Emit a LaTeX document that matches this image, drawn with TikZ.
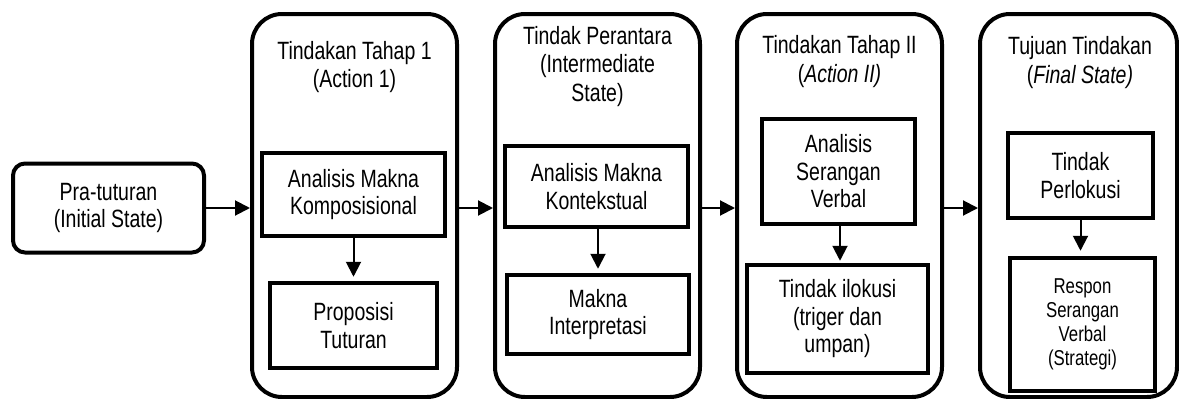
\documentclass[tikz,border=0pt]{standalone}
\usepackage{fontspec}
\setmainfont{Liberation Sans}[FakeStretch=0.78]
\usetikzlibrary{arrows.meta, positioning}

\begin{document}
\begin{tikzpicture}[
        x=1pt, y=-1pt,
        tahap/.style={
            rectangle,
            rounded corners=30pt,
            draw=black,
            line width=4pt,
            minimum width=205pt,
            minimum height=383pt
        },
        kotak/.style={
            rectangle,
            draw=black,
            line width=4.5pt,
            align=center,
            inner sep=2pt,
            font=\fontsize{25}{27.5}\selectfont
        },
        judul/.style={
            align=center,
            inner sep=0pt,
            font=\fontsize{25}{28.5}\selectfont
        },
        panah/.style={
            -{Triangle[length=15pt,width=15pt]},
            line width=2pt
        }
    ]
        \useasboundingbox (0,0) rectangle (1179,399);

        \node[kotak, rounded corners=12pt, line width=4pt, minimum width=191pt, minimum height=89pt] (pra) at (108.5,208) {
            Pra-tuturan\\
            (Initial State)
        };

        \node[tahap] (s1) at (354.5,205.5) {};
        \node[tahap] (s2) at (597.5,205.5) {};
        \node[tahap] (s3) at (839.5,205.5) {};
        \node[tahap, minimum width=197pt] (s4) at (1078.5,205.5) {};

        \node[judul] (j1) at (354.5,67) {Tindakan Tahap 1\\(Action 1)};
        \node[judul] (j2) at (597.5,66.5) {Tindak Perantara\\(Intermediate\\State)};
        \node[judul] (j3) at (839.5,61.5) {Tindakan Tahap II\\(\textit{Action II)}};
        \node[judul] (j4) at (1080,62.5) {Tujuan Tindakan\\(\textit{Final State)}};

        \node[kotak, minimum width=183pt, minimum height=83pt] (komp) at (353.5,194.5) {
            Analisis Makna\\
            Komposisional
        };
        \node[kotak, minimum width=167pt, minimum height=85pt] (prop) at (353.5,325.5) {
            Proposisi\\
            Tuturan
        };

        \node[kotak, minimum width=183pt, minimum height=81pt] (kont) at (596.5,186.5) {
            Analisis Makna\\
            Kontekstual
        };
        \node[kotak, minimum width=182pt, minimum height=79pt] (interp) at (598,314.5) {
            Makna\\
            Interpretasi
        };

        \node[kotak, minimum width=153pt, minimum height=105pt] (serang) at (838.5,171.5) {
            Analisis\\
            Serangan\\
            Verbal
        };
        \node[kotak, minimum width=181pt, minimum height=108pt] (ilok) at (837.5,319) {
            Tindak ilokusi\\
            (triger dan\\
            umpan)
        };

        \node[kotak, minimum width=145pt, minimum height=85pt] (perlok) at (1080.5,175.5) {
            Tindak\\
            Perlokusi
        };
        \node[kotak, minimum width=145pt, minimum height=133pt, font=\fontsize{21.5}{24}\selectfont] (respon) at (1082.5,324.5) {
            Respon\\
            Serangan\\
            Verbal\\
            (Strategi)
        };

        \draw[panah] (pra.east) -- (pra.east -| s1.west);
        \draw[panah] (s1.east |- pra) -- (s2.west |- pra);
        \draw[panah] (s2.east |- pra) -- (s3.west |- pra);
        \draw[panah] (s3.east |- pra) -- (s4.west |- pra);

        \draw[panah, shorten >=4pt] (komp) -- (prop);
        \draw[panah, shorten >=4pt] (kont.south -| interp) -- (interp);
        \draw[panah, shorten >=2pt] (serang.south -| 840,0) -- (ilok.north -| 840,0);
        \draw[panah, shorten >=5pt] (perlok) -- (perlok |- respon.north);
    \end{tikzpicture}
\end{document}
